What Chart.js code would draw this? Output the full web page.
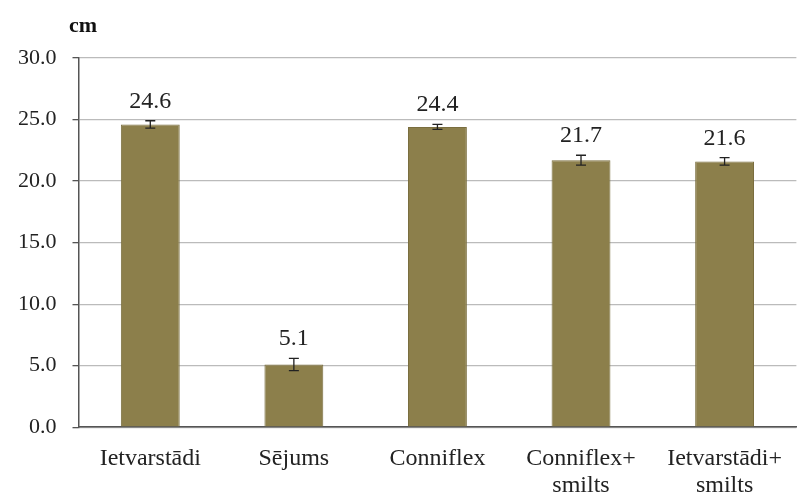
<!DOCTYPE html>
<html>
<head>
<meta charset="utf-8">
<script src="https://cdn.jsdelivr.net/npm/chart.js@4"></script>
<style>
  html, body { margin: 0; padding: 0; background: #fff; }
  #wrap { width: 800px; height: 493px; }
</style>
</head>
<body>
<div id="wrap"><canvas id="myChart"></canvas></div>
<script>
// dati nolasīti no attēla
var kategorijas = ['Ietvarstādi', 'Sējums', 'Conniflex', ['Conniflex+', 'smilts'], ['Ietvarstādi+', 'smilts']];
var vertibas = [24.6, 5.1, 24.4, 21.7, 21.6];
var kludas = [0.3, 0.5, 0.2, 0.4, 0.3];
var yTicks = [0, 5, 10, 15, 20, 25, 30];

var serif = '"Liberation Serif", "DejaVu Serif", serif';

// kļūdu joslas un vērtību uzraksti
var errorBarsPlugin = {
    id: 'errorBars',
    afterDatasetsDraw: function(chart) {
        let ctx = chart.ctx;
        let yScale = chart.scales.y;
        let meta = chart.getDatasetMeta(0);
        ctx.save();
        meta.data.forEach(function(bar, i) {
            let yTop = yScale.getPixelForValue(vertibas[i] + kludas[i]);
            let yBot = yScale.getPixelForValue(vertibas[i] - kludas[i]);
            ctx.strokeStyle = '#222';
            ctx.lineWidth = 1.3;
            ctx.beginPath();
            ctx.moveTo(bar.x, yTop);
            ctx.lineTo(bar.x, yBot);
            ctx.moveTo(bar.x - 5, yTop);
            ctx.lineTo(bar.x + 5, yTop);
            ctx.moveTo(bar.x - 5, yBot);
            ctx.lineTo(bar.x + 5, yBot);
            ctx.stroke();

            ctx.fillStyle = '#222';
            ctx.font = '24px ' + serif;
            ctx.textAlign = 'center';
            ctx.textBaseline = 'alphabetic';
            ctx.fillText(vertibas[i].toFixed(1), bar.x, yTop - 13);
        });
        // vienība
        ctx.font = 'bold 22px ' + serif;
        ctx.textAlign = 'left';
        ctx.textBaseline = 'middle';
        ctx.fillStyle = '#111';
        ctx.fillText('cm', 69, 26);
        ctx.restore();
    }
};

let chartData = {
    labels: kategorijas,
    datasets: [{
        data: vertibas,
        backgroundColor: '#8c7f4b',
        borderColor: '#7a6e3f',
        borderWidth: 1,
        barPercentage: 0.82,
        categoryPercentage: 0.5
    }]
};

let config = {
    type: 'bar',
    data: chartData,
    options: {
        responsive: true,
        maintainAspectRatio: false,
        animation: false,
        layout: {
            padding: { top: 58, right: 0, left: 2, bottom: -24 }
        },
        plugins: {
            legend: { display: false },
            tooltip: { enabled: false }
        },
        scales: {
            x: {
                grid: { display: false, drawTicks: false },
                border: { color: '#555', width: 1.5 },
                ticks: {
                    color: '#222',
                    font: { family: serif, size: 24, lineHeight: 1.12 },
                    padding: 18,
                    maxRotation: 0,
                    autoSkip: false
                }
            },
            y: {
                min: 0,
                max: 30,
                afterBuildTicks: function(axis) {
                    axis.ticks = yTicks.map(v => ({ value: v }));
                },
                grid: { color: '#bbbbbb', lineWidth: 1.3, tickLength: 6, tickColor: '#555' },
                border: { color: '#555', width: 1.5 },
                ticks: {
                    color: '#222',
                    font: { family: serif, size: 22 },
                    padding: 16,
                    callback: function(v) { return Number(v).toFixed(1); }
                }
            }
        }
    },
    plugins: [errorBarsPlugin]
};

let mychart = new Chart(document.getElementById('myChart'), config);
</script>
</body>
</html>
